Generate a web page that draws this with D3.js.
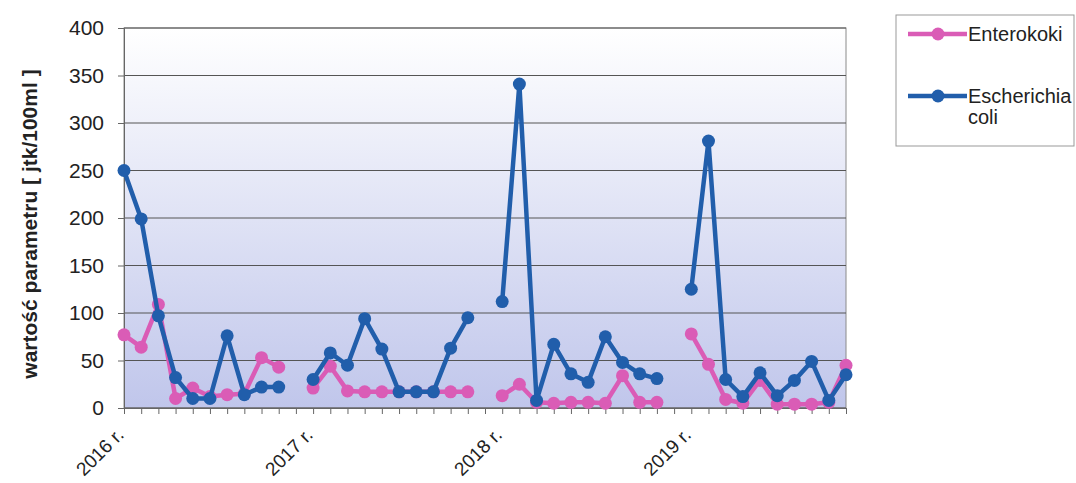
<!DOCTYPE html>
<html>
<head>
<meta charset="utf-8">
<script src="https://cdn.jsdelivr.net/npm/d3@7"></script>
<style>
  body { margin: 0; background: #fff; }
  svg { font-family: "Liberation Sans", Arial, sans-serif; }
</style>
</head>
<body>
<div id="chart"></div>
<script>
const width = 1076;
const height = 483;

// 11 slots per year, last slot of each year left empty
const years = ["2016 r.", "2017 r.", "2018 r.", "2019 r."];
const slotsPerYear = 11;
const yTicks = [0, 50, 100, 150, 200, 250, 300, 350, 400];

const enterokoki = [
  77, 64, 109, 10, 21, 12, 14, 15, 53, 43, null,
  21, 44, 18, 17, 17, 17, 17, 17, 17, 17, null,
  13, 25, 6, 5, 6, 6, 5, 34, 6, 6, null,
  78, 46, 9, 5, 29, 4, 4, 4, 6, 45
];
const escherichia = [
  250, 199, 97, 32, 10, 10, 76, 14, 22, 22, null,
  30, 58, 45, 94, 62, 17, 17, 17, 63, 95, null,
  112, 341, 8, 67, 36, 27, 75, 48, 36, 31, null,
  125, 281, 30, 12, 37, 13, 29, 49, 8, 35
];

const series = [
  { name: "Enterokoki", values: enterokoki, color: "#da5cb6" },
  { name: "Escherichia coli", values: escherichia, color: "#215eab" }
];

const margin = { left: 124, top: 28 };
const plotRight = 846;
const plotBottom = 408;

const x = d3.scaleLinear()
  .domain([0, enterokoki.length - 1])
  .range([margin.left, plotRight]);

const y = d3.scaleLinear()
  .domain([0, 400])
  .range([plotBottom, margin.top]);

const svg = d3.select("#chart").append("svg")
  .attr("width", width)
  .attr("height", height);

// plot background gradient
const grad = svg.append("defs").append("linearGradient")
  .attr("id", "bg")
  .attr("x1", 0).attr("y1", 0).attr("x2", 0).attr("y2", 1);
grad.append("stop").attr("offset", "0%").attr("stop-color", "#ffffff");
grad.append("stop").attr("offset", "100%").attr("stop-color", "#c0c6eb");

svg.append("rect")
  .attr("x", margin.left)
  .attr("y", y(400))
  .attr("width", plotRight - margin.left)
  .attr("height", plotBottom - y(400))
  .attr("fill", "url(#bg)")
  .attr("stroke", "#8a8a8a")
  .attr("stroke-width", 1);

// gridlines
svg.append("g")
  .selectAll("line")
  .data(yTicks)
  .join("line")
  .attr("x1", margin.left)
  .attr("x2", plotRight)
  .attr("y1", d => y(d))
  .attr("y2", d => y(d))
  .attr("stroke", "#555")
  .attr("stroke-width", 1);

// y axis
const yAxis = svg.append("g")
  .attr("transform", `translate(${margin.left},0)`)
  .call(d3.axisLeft(y).tickValues(yTicks).tickSize(6).tickPadding(14));
yAxis.select(".domain").attr("stroke", "#666");
yAxis.selectAll(".tick line").attr("stroke", "#666");
yAxis.selectAll("text")
  .attr("font-size", 21)
  .attr("fill", "#222");

// x axis ticks
const xAxis = svg.append("g")
  .attr("transform", `translate(0,${plotBottom})`)
  .call(d3.axisBottom(x).tickValues(d3.range(enterokoki.length)).tickSize(6).tickFormat(""));
xAxis.select(".domain").attr("stroke", "#666");
xAxis.selectAll(".tick line").attr("stroke", "#666");

// year labels
svg.append("g")
  .selectAll("text")
  .data(years)
  .join("text")
  .attr("transform", (d, i) => `translate(${x(i * slotsPerYear) + 1},${plotBottom + 28}) rotate(-45)`)
  .attr("text-anchor", "end")
  .attr("font-size", 19)
  .attr("fill", "#222")
  .text(d => d);

// y title
svg.append("text")
  .attr("transform", `translate(37,${(plotBottom + y(400)) / 2 + 6}) rotate(-90)`)
  .attr("text-anchor", "middle")
  .attr("font-size", 21)
  .attr("font-weight", "bold")
  .attr("fill", "#222")
  .text("wartość parametru [ jtk/100ml ]");

// lines and markers
const line = d3.line()
  .defined(d => d != null)
  .x((d, i) => x(i))
  .y(d => y(d));

series.forEach(s => {
  const g = svg.append("g");
  g.append("path")
    .datum(s.values)
    .attr("fill", "none")
    .attr("stroke", s.color)
    .attr("stroke-width", 4.5)
    .attr("stroke-linejoin", "round")
    .attr("d", line);
  g.selectAll("circle")
    .data(s.values.map((v, i) => ({ v, i })).filter(d => d.v != null))
    .join("circle")
    .attr("cx", d => x(d.i))
    .attr("cy", d => y(d.v))
    .attr("r", 6.5)
    .attr("fill", s.color);
});

// legend
const legend = svg.append("g");
legend.append("rect")
  .attr("x", 896).attr("y", 15)
  .attr("width", 178).attr("height", 131)
  .attr("fill", "#fff")
  .attr("stroke", "#999");

const legendRows = [
  { s: series[0], ly: 34, lines: ["Enterokoki"] },
  { s: series[1], ly: 96, lines: ["Escherichia", "coli"] }
];
legendRows.forEach(r => {
  legend.append("line")
    .attr("x1", 908).attr("x2", 967)
    .attr("y1", r.ly).attr("y2", r.ly)
    .attr("stroke", r.s.color)
    .attr("stroke-width", 4.5);
  legend.append("circle")
    .attr("cx", 938).attr("cy", r.ly).attr("r", 6.5)
    .attr("fill", r.s.color);
  const t = legend.append("text")
    .attr("x", 968).attr("y", r.ly + 7)
    .attr("font-size", 20)
    .attr("fill", "#222");
  r.lines.forEach((l, k) => {
    t.append("tspan").attr("x", 968).attr("dy", k === 0 ? 0 : 21).text(l);
  });
});
</script>
</body>
</html>
